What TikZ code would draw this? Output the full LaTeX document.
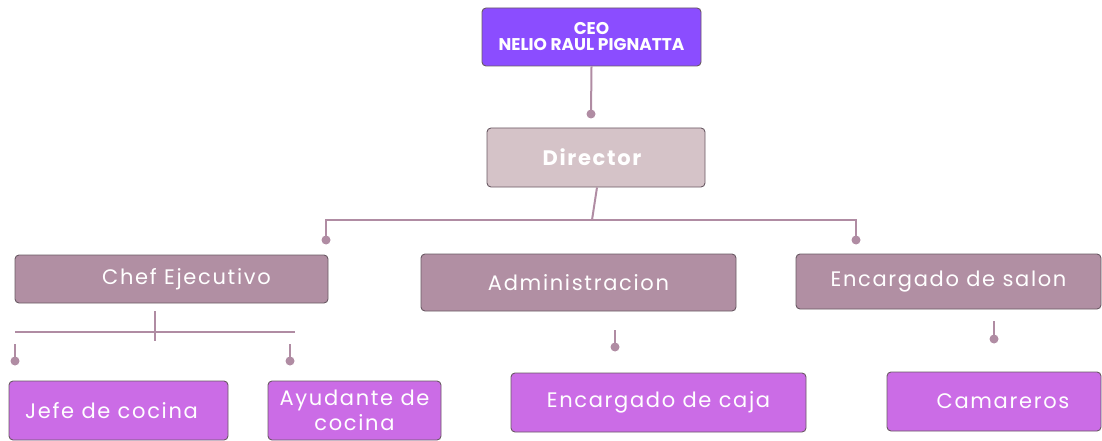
\documentclass[tikz,border=0pt]{standalone}
\usepackage{fontspec}
\setmainfont{Poppins}
\newfontfamily\boxfont[LetterSpace=8]{Poppins}
\usepackage{tikz}
\usetikzlibrary{%
	calc,%
	positioning%
}

\definecolor{ceoviolet}{HTML}{8B4DFF}
\definecolor{dirrose}{HTML}{D5C3C8}
\definecolor{midmauve}{HTML}{B18FA3}
\definecolor{lowpink}{HTML}{CB6CE6}
\definecolor{edgegray}{HTML}{6A5A64}
\definecolor{linkmauve}{HTML}{B08CA3}

\tikzset{
	orgbox/.style={draw=edgegray, line width=0.9pt, rounded corners=4pt, text=white, align=center, inner sep=0pt},
	ceobox/.style={orgbox, fill=ceoviolet, font=\fontsize{17}{16}\selectfont\bfseries},
	dirbox/.style={orgbox, fill=dirrose, font=\boxfont\fontsize{21}{22}\selectfont\bfseries},
	midbox/.style={orgbox, fill=midmauve, font=\boxfont\fontsize{21}{22}\selectfont},
	lowbox/.style={orgbox, fill=lowpink, font=\boxfont\fontsize{21}{22}\selectfont},
	link/.style={linkmauve, line width=2pt},
	knob/.style={fill=linkmauve}
}

\begin{document}
\begin{tikzpicture}[x=1pt, y=-1pt]
			\useasboundingbox (0,0) rectangle (1102,441);
			
			% Draw the boxes
			\node[ceobox, minimum width=219pt, minimum height=58pt] (ceo) at (591.5,37) {CEO\\NELIO RAUL PIGNATTA};
			\node[dirbox, minimum width=218pt, minimum height=59pt] (dir) at (596,157.5) {Director\hspace{8pt}};
			\node[midbox, minimum width=313pt, minimum height=48pt] (chef) at (171.5,279) {\hspace{30pt}Chef Ejecutivo};
			\node[midbox, minimum width=315pt, minimum height=57pt] (admin) at (578.5,282.5) {Administracion};
			\node[midbox, minimum width=305pt, minimum height=55pt] (salon) at (948.5,281.5) {Encargado de salon};
			\node[lowbox, minimum width=219pt, minimum height=59pt] (jefe) at (118.5,410.5) {Jefe de cocina\hspace{14pt}};
			\node[lowbox, minimum width=173pt, minimum height=59pt, font=\boxfont\fontsize{21}{25}\selectfont] (ayud) at (354.5,410.5) {Ayudante de\\cocina};
			\node[lowbox, minimum width=295pt, minimum height=59pt] (caja) at (658.5,402.5) {Encargado de caja};
			\node[lowbox, minimum width=214pt, minimum height=59pt] (cama) at (994,401.5) {\hspace{18pt}Camareros};
			
			% Ends of the connectors
			\coordinate (kdir) at (591,114);
			\coordinate (kbar) at (592,220);
			\coordinate (kchef) at (326,240);
			\coordinate (ksalon) at (856,240);
			\coordinate (ktick) at (155,341);
			\coordinate (kjefe) at (15,361);
			\coordinate (kayud) at (290,361);
			\coordinate (kcaja) at (615,347);
			\coordinate (kcama) at (994,339);
			
			% Draw the links
			\draw[link] (ceo.south) -- (kdir);
			\draw[link] ($(dir.south)+(1,0)$) -- (kbar);
			\draw[link] (kchef) -- ++(0,-20) -| (ksalon);
			\draw[link] ($(chef.south)+(-16.5,8)$) -- (ktick);
			\draw[link] (15,332) -- (295,332);
			\draw[link] (kjefe) -- ++(0,-17);
			\draw[link] (kayud) -- ++(0,-17);
			\draw[link] (kcaja) -- ++(0,-17);
			\draw[link] (kcama) -- ++(0,-18);
			
			% Draw the dots
			\foreach \k in {kdir,kchef,ksalon,kjefe,kayud,kcaja,kcama} {
				\fill[knob] (\k) circle (4.5);
			}
		\end{tikzpicture}
\end{document}
